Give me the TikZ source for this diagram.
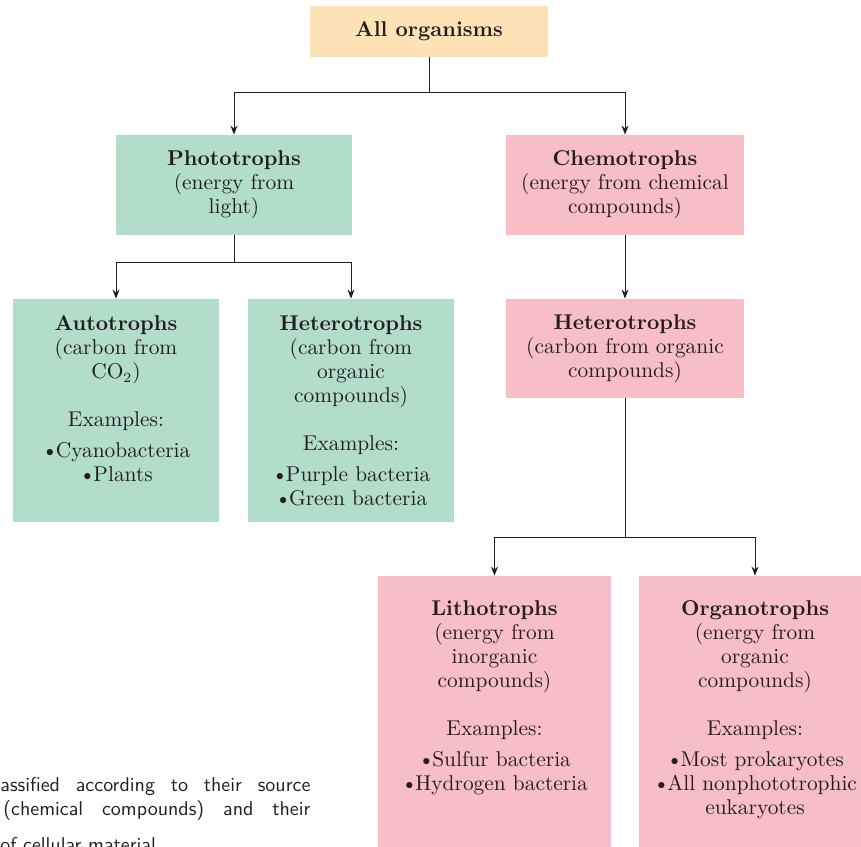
\documentclass[tikz,border=0pt]{standalone}
\usetikzlibrary{arrows.meta}

\definecolor{topfill}{HTML}{FDE2B5}
\definecolor{photofill}{HTML}{B2DDCB}
\definecolor{chemofill}{HTML}{F7BEC6}
\definecolor{ink}{HTML}{231F20}
\newcommand\bul{\textbullet\kern-1.2pt}

\begin{document}
\begin{tikzpicture}[x=0.5pt,y=-0.5pt]
	\tikzstyle{box}=[inner sep=0pt,align=center,text=ink,font=\fontsize{10.7}{12}\selectfont]
	\tikzstyle{topbox}=[box,fill=topfill]
	\tikzstyle{phbox}=[box,fill=photofill]
	\tikzstyle{chbox}=[box,fill=chemofill]
	\tikzstyle{txt}=[box,anchor=north]
	\tikzstyle{link}=[ink,line width=0.5pt,-{Stealth[length=4.5pt,width=3.5pt]}]
	\clip (0,0) rectangle (861,846);
	% level 0 and 1
	\node[topbox,minimum width=119pt,minimum height=25.5pt] (all) at (429,31.5) {\textbf{All organisms}};
	\node[phbox,minimum width=118pt,minimum height=50pt] (photo) at (234,185)
		{\textbf{Phototrophs}\\(energy from\\light)};
	\node[chbox,minimum width=119pt,minimum height=50pt] (chemo) at (625,185)
		{\textbf{Chemotrophs}\\(energy from chemical\\compounds)};
	% level 2
	\node[phbox,minimum width=103pt,minimum height=111.5pt] (auto) at (116,410.5) {};
	\node[txt] (auto-t) at ([yshift=-8.5pt]auto.north)
		{\textbf{Autotrophs}\\(carbon from\\CO$_2$)\\[12pt]Examples:\\[3.5pt]\bul Cyanobacteria\\\bul Plants};
	\node[phbox,minimum width=103pt,minimum height=111.5pt] (hetg) at (351,410.5) {};
	\node[txt] (hetg-t) at ([yshift=-8.5pt]hetg.north)
		{\textbf{Heterotrophs}\\(carbon from\\organic\\compounds)\\[12pt]Examples:\\[3.5pt]\bul Purple bacteria\\\bul Green bacteria};
	\node[chbox,minimum width=119pt,minimum height=49.5pt] (hetp) at (625,348.5)
		{\textbf{Heterotrophs}\\(carbon from organic\\compounds)};
	% level 3
	\node[chbox,minimum width=116.5pt,minimum height=140pt] (litho) at (494.5,716) {};
	\node[txt] (litho-t) at ([yshift=-12.5pt]litho.north)
		{\textbf{Lithotrophs}\\(energy from\\inorganic\\compounds)\\[12pt]Examples:\\[3.5pt]\bul Sulfur bacteria\\\bul Hydrogen bacteria};
	\node[chbox,minimum width=116pt,minimum height=140pt] (organo) at (755,716) {};
	\node[txt] (organo-t) at ([yshift=-12.5pt]organo.north)
		{\textbf{Organotrophs}\\(energy from\\organic\\compounds)\\[12pt]Examples:\\[3.5pt]\bul Most prokaryotes\\\bul All nonphototrophic\\eukaryotes};
	% connectors
	\draw[link] (all.south) -- ++(0,35) -| (photo.north);
	\draw[link] (all.south) -- ++(0,35) -| (chemo.north);
	\draw[link] (photo.south) -- ++(0,27) -| (auto.north);
	\draw[link] (photo.south) -- ++(0,27) -| (hetg.north);
	\draw[link] (chemo.south) -- (hetp.north);
	\draw[link] (hetp.south) -- ++(0,139) -| (litho.north);
	\draw[link] (hetp.south) -- ++(0,139) -| (organo.north);
	% caption, cut off at the page edge
	\node[anchor=base west,inner sep=0pt,text=ink,align=left,font=\sffamily\fontsize{10}{12}\selectfont] (capt) at (0,851)
		{\makebox[155pt][s]{assified according to their source}\\
		\hspace*{1.5pt}\makebox[153.5pt][s]{(chemical compounds) and their}\\[6pt]
		of cellular material.};
\end{tikzpicture}
\end{document}
